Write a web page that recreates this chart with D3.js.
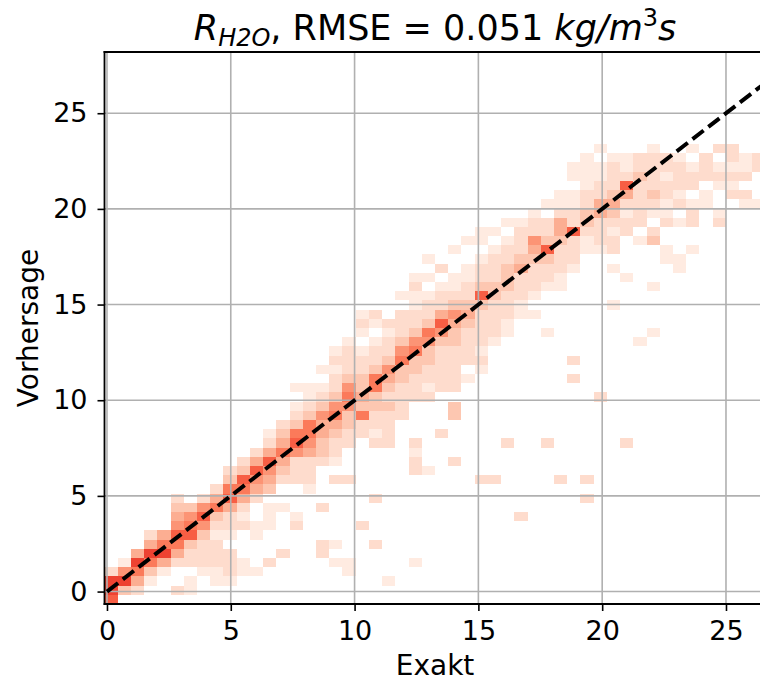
<!DOCTYPE html>
<html>
<head>
<meta charset="utf-8">
<script src="https://cdn.jsdelivr.net/npm/d3@7"></script>
<style>
  body { margin: 0; background: #fff; }
  svg { display: block; font-family: "DejaVu Sans", sans-serif; }
  text { white-space: pre; }
</style>
</head>
<body>
<svg id="chart" width="760" height="682"></svg>
<script>
/* global d3 */

// histogram extent (data units) and number of bins
const xRange = [-0.1, 26.6];
const yRange = [-0.65, 28.2];
const nBinsX = 50;
const nBinsY = 60;

const xTicks = [0, 5, 10, 15, 20, 25];
const yTicks = [0, 5, 10, 15, 20, 25];

// y = x reference line
const diagLine = [0, 28];

// occupied bins: [column, first row, colour level of each row upward] (0 = empty)
const histCols = [
    [0, 0, "7882"],
    [1, 1, "3851"],
    [2, 1, "24684"],
    [3, 2, "136842"],
    [4, 3, "14864"],
    [5, 1, "2"], [5, 4, "24675432"],
    [6, 1, "11"], [6, 4, "2237653"],
    [7, 3, "122235752"],
    [8, 2, "11222123642"],
    [9, 2, "1222"], [9, 7, "12247632"],
    [10, 3, "11"], [10, 8, "21246732"],
    [11, 3, "1"], [11, 7, "11"], [11, 11, "245742"],
    [12, 4, "2"], [12, 8, "111"], [12, 12, "3457421"],
    [13, 5, "2"], [13, 10, "1"], [13, 13, "2346432"],
    [14, 8, "21"], [14, 13, "222576321"], [14, 23, "1"],
    [15, 12, "122245663211"],
    [16, 5, "22"], [16, 10, "2"], [16, 15, "233445321"], [16, 25, "1"],
    [17, 4, "1"], [17, 6, "1"], [17, 13, "2"], [17, 15, "1223465322121"],
    [18, 3, "11"], [18, 13, "2"], [18, 17, "223356532221"],
    [19, 8, "2"], [19, 18, "2263433221"], [19, 29, "121"],
    [20, 6, "2"], [20, 11, "2"], [20, 17, "212233663221"], [20, 30, "12"],
    [21, 2, "1"], [21, 17, "22223234532212"],
    [22, 20, "222233653222"], [22, 33, "1"],
    [23, 4, "1"], [23, 14, "2212"], [23, 22, "22233653221121"],
    [24, 14, "1"], [24, 22, "212233563221"], [24, 35, "1"], [24, 37, "1"],
    [25, 18, "2"], [25, 23, "222223574221"], [25, 36, "2"],
    [26, 15, "2"], [26, 20, "33"], [26, 23, "2222233453211"], [26, 38, "1"],
    [27, 24, "1"], [27, 26, "22223432211"], [27, 39, "1"],
    [28, 13, "2"], [28, 25, "1212222373221"], [28, 39, "11"],
    [29, 13, "2"], [29, 28, "12222332221"], [29, 40, "1"],
    [30, 17, "2"], [30, 29, "11222333221"], [30, 41, "1"],
    [31, 9, "2"], [31, 31, "11222432221"],
    [32, 31, "1"], [32, 33, "1222345221"],
    [33, 17, "2"], [33, 29, "1"], [33, 34, "1223732201"],
    [34, 13, "2"], [34, 34, "11222344211"],
    [35, 24, "2"], [35, 26, "2"], [35, 36, "122272211011"],
    [36, 11, "2"], [36, 13, "2"], [36, 38, "11233221111"],
    [37, 22, "2"], [37, 38, "122244221101"],
    [38, 32, "1"], [38, 36, "1022123432221"],
    [39, 17, "2"], [39, 35, "1"], [39, 40, "221247211"],
    [40, 28, "1"], [40, 39, "1022222322"],
    [41, 29, "1"], [41, 34, "1"], [41, 39, "32012322221"],
    [42, 37, "110021122122"],
    [43, 36, "1100010212221"],
    [44, 38, "100221022101"],
    [45, 43, "110222"],
    [46, 41, "210012102"],
    [47, 44, "212122"],
    [48, 43, "120211"],
    [49, 43, "1"], [49, 47, "22"]
];

// position on the Reds colormap for each level
const levelT = [0, 0.06, 0.13, 0.21, 0.29, 0.37, 0.45, 0.53, 0.61, 0.67];

const svg = d3.select("#chart");

const plot = { left: 104.5, right: 765.6, top: 52, bottom: 604 };

const x = d3.scaleLinear().domain(xRange).range([plot.left, plot.right]);
const y = d3.scaleLinear().domain(yRange).range([plot.bottom, plot.top]);

const bw = (xRange[1] - xRange[0]) / nBinsX;
const bh = (yRange[1] - yRange[0]) / nBinsY;

// flatten segments into single bins
const bins = [];
histCols.forEach(([c, r0, s]) => {
    s.split("").forEach((ch, k) => {
        const lv = +ch;
        if (lv > 0) bins.push({ col: c, row: r0 + k, level: lv });
    });
});

svg.append("clipPath")
    .attr("id", "plotclip")
    .append("rect")
    .attr("x", plot.left)
    .attr("y", plot.top)
    .attr("width", plot.right - plot.left)
    .attr("height", plot.bottom - plot.top);

// 2d histogram
svg.append("g")
    .attr("clip-path", "url(#plotclip)")
    .selectAll("rect")
    .data(bins)
    .enter()
    .append("rect")
    .attr("x", d => x(xRange[0] + d.col * bw))
    .attr("width", d => x(xRange[0] + (d.col + 1) * bw) - x(xRange[0] + d.col * bw))
    .attr("y", d => y(yRange[0] + (d.row + 1) * bh))
    .attr("height", d => y(yRange[0] + d.row * bh) - y(yRange[0] + (d.row + 1) * bh))
    .attr("fill", d => d3.interpolateReds(levelT[d.level]))
    .attr("shape-rendering", "crispEdges");

// grid
const grid = svg.append("g")
    .attr("stroke", "#b0b0b0")
    .attr("stroke-width", 1.6);

grid.selectAll(".gx")
    .data(xTicks)
    .enter()
    .append("line")
    .attr("x1", d => x(d)).attr("x2", d => x(d))
    .attr("y1", plot.top).attr("y2", plot.bottom);

grid.selectAll(".gy")
    .data(yTicks)
    .enter()
    .append("line")
    .attr("x1", plot.left).attr("x2", plot.right)
    .attr("y1", d => y(d)).attr("y2", d => y(d));

// y = x line
svg.append("path")
    .datum(diagLine)
    .attr("clip-path", "url(#plotclip)")
    .attr("d", d3.line().x(d => x(d)).y(d => y(d)))
    .attr("fill", "none")
    .attr("stroke", "#000")
    .attr("stroke-width", 4)
    .attr("stroke-dasharray", "14,6");

// axes
const xAxis = svg.append("g")
    .attr("transform", `translate(0,${plot.bottom})`)
    .call(d3.axisBottom(x).tickValues(xTicks).tickSize(7).tickPadding(10).tickFormat(d3.format("d")));

const yAxis = svg.append("g")
    .attr("transform", `translate(${plot.left},0)`)
    .call(d3.axisLeft(y).tickValues(yTicks).tickSize(7).tickPadding(10).tickFormat(d3.format("d")));

[xAxis, yAxis].forEach(g => {
    g.select(".domain").remove();
    g.selectAll(".tick line").attr("stroke", "#000").attr("stroke-width", 1.6);
    g.selectAll(".tick text")
        .attr("fill", "#000")
        .style("font-size", "27px")
        .style("font-family", "DejaVu Sans");
});

// spines
const spines = svg.append("g")
    .attr("stroke", "#000")
    .attr("stroke-width", 1.8)
    .attr("stroke-linecap", "square");
spines.append("line").attr("x1", plot.left).attr("x2", plot.left).attr("y1", plot.top).attr("y2", plot.bottom);
spines.append("line").attr("x1", plot.left).attr("x2", plot.right).attr("y1", plot.bottom).attr("y2", plot.bottom);
spines.append("line").attr("x1", plot.left).attr("x2", plot.right).attr("y1", plot.top).attr("y2", plot.top);
spines.append("line").attr("x1", plot.right).attr("x2", plot.right).attr("y1", plot.top).attr("y2", plot.bottom);

// labels
const midX = (plot.left + plot.right) / 2;

svg.append("text")
    .attr("x", midX)
    .attr("y", 675)
    .attr("text-anchor", "middle")
    .style("font-size", "28px")
    .text("Exakt");

svg.append("text")
    .attr("transform", `translate(38,${(plot.top + plot.bottom) / 2}) rotate(-90)`)
    .attr("text-anchor", "middle")
    .style("font-size", "28px")
    .text("Vorhersage");

// title: R_{H2O}, RMSE = 0.051 kg/m^3 s
const title = svg.append("text")
    .attr("x", midX)
    .attr("y", 40)
    .attr("text-anchor", "middle")
    .style("font-size", "35px");

title.append("tspan").style("font-style", "italic").text("R");
title.append("tspan").style("font-style", "italic").style("font-size", "24px").attr("dy", 6).text("H2O");
title.append("tspan").attr("dy", -6).text(", RMSE = 0.051 ");
title.append("tspan").style("font-style", "italic").text("kg/m");
title.append("tspan").style("font-size", "24px").attr("dy", -14).text("3");
title.append("tspan").style("font-style", "italic").attr("dy", 14).text("s");
</script>
</body>
</html>
